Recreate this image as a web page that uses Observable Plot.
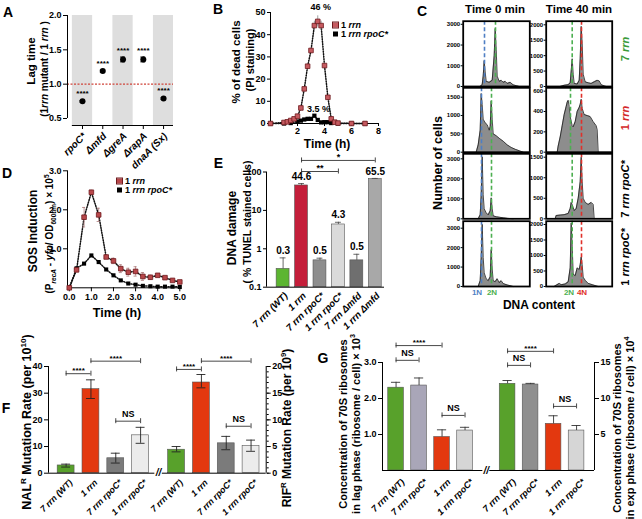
<!DOCTYPE html>
<html><head><meta charset="utf-8">
<script src="https://cdn.jsdelivr.net/npm/d3@7"></script>
<script src="https://cdn.jsdelivr.net/npm/@observablehq/plot@0.6"></script>
<style>
html,body{margin:0;padding:0;background:#fff;}
#root{position:relative;width:642px;height:519px;overflow:hidden;background:#fff;font-family:"Liberation Sans",Arial,Helvetica,sans-serif;}
.lbl{position:absolute;white-space:nowrap;font-weight:bold;color:#000;line-height:1;}
.lbl sup,.lbl sub{font-size:0.65em;line-height:0;}
.sq{display:inline-block;width:5px;height:5px;margin-right:3px;vertical-align:middle;}
</style></head><body><div id="root"></div>
<script>
// ---------------- DATA ----------------
// Panel A
const aLabels = ["rpoC*", "Δmfd", "ΔgreA", "ΔrapA", "dnaA (Sx)"];
const aValues = [0.75, 1.19, 1.36, 1.36, 0.79];
const aErr = [0.012, 0.015, 0.035, 0.035, 0.012];
const aSig = ["****", "****", "****", "****", "****"];

// Panel B
const bTimeRrn = [0, 1, 1.25, 1.5, 1.75, 2, 2.25, 2.5, 2.75, 3, 3.25, 3.5, 3.75, 4, 4.25, 4.5, 4.75, 5, 6, 7];
const bRrn = [0, 0.45, 0.75, 1.35, 2.1, 3.3, 7.0, 15.6, 25.8, 32.9, 44.1, 46, 44.1, 26.1, 11.8, 2.1, 0.6, 0.2, 0, 0];
const bRrnErr = [0, 0, 0, 0, 0, 0, 0.5, 0.8, 1, 1, 2, 2.5, 2, 1, 0.8, 0.5, 0, 0, 0, 0];
const bTimeRpoC = [0, 1, 1.5, 2, 2.25, 2.5, 2.75, 3, 3.25, 3.5, 3.75, 4, 4.25, 4.5, 5, 6, 7];
const bRpoC = [0, 0, 0.2, 0.9, 1.3, 1.8, 2.1, 2.1, 3.5, 1.6, 0.5, 0.6, 0.6, 0.2, 0, 0, 0];
const bNotes = ["46 %", "3.5 %"];

// Panel C (DNA content channel, number of cells)
const cRows = ["7 <i>rrn</i>", "1 <i>rrn</i>", "7 <i>rrn rpoC*</i>", "1 <i>rrn rpoC*</i>"];
const c0X_7rrn = [17,19,20,21,22,23,26,29,31,32,33,34,36,38,40,42,44,47,50,53,56];
const c0Y_7rrn = [0,100,500,1250,700,250,200,300,1500,2800,1800,500,250,300,200,250,150,200,80,40,0];
const c40X_7rrn = [14,18,22,24,25,26,27,28,31,33,34,35,36,37,39,42,45,48,51,53,55,58,60];
const c40Y_7rrn = [0,40,60,120,500,900,400,100,80,200,900,1950,1400,400,150,120,100,150,200,180,60,20,0];
const c0X_1rrn = [13,15,17,18,19,20,22,24,26,27,28,29,30,33,36,40,44,48,52,56,60];
const c0Y_1rrn = [0,200,600,1600,1300,900,800,750,600,700,1400,900,500,450,380,300,200,130,80,40,0];
const c40X_1rrn = [11,12,14,16,18,20,21,22,23,24,26,27,29,31,33,34,35,36,38,41,44,47,50,51,52];
const c40Y_1rrn = [0,60,150,260,370,450,490,510,450,350,260,250,300,400,440,470,520,430,370,360,350,300,260,220,0];
const c0X_7rpo = [15,17,18,19,20,21,23,25,27,28,29,30,33,36,40,45,50];
const c0Y_7rpo = [0,200,1200,3100,1200,500,300,200,400,1050,500,150,100,80,50,20,0];
const c40X_7rpo = [9,10,14,18,22,24,25,26,28,30,32,34,35,36,37,39,42,45,47,48];
const c40Y_7rpo = [0,80,90,100,130,250,400,350,200,250,500,900,1500,900,500,400,350,400,350,0];
const c0X_1rpo = [15,17,18,19,20,21,23,25,27,28,29,30,32,34,36,38,40,44,50];
const c0Y_1rpo = [0,300,1500,3200,1500,700,400,300,500,1900,900,300,250,400,200,300,150,80,0];
const c40X_1rpo = [8,10,13,15,19,22,24,25,26,27,29,31,33,34,35,36,37,39,42,46,50,52];
const c40Y_1rpo = [0,40,100,60,80,150,600,2050,1300,400,350,600,550,700,950,700,300,200,100,60,20,0];
const cGuide1N = [21.3, 18.3, 18.3, 18.3];
const cGuide2N0 = [32.3, 28.3, 28.3, 28.3];
const cGuide2N40 = [26, 24.3, 26, 26];
const cGuide4N40 = [35.3, 35.3, 35.3, 35.3];
const cMax0 = [3150, 1756, 3250, 3360];
const cMax40 = [2117, 633, 1583, 2106];
const cTicks0 = [[0,1000,2000,3000],[0,500,1000,1500],[0,1000,2000,3000],[0,1000,2000,3000]];
const cTicks40 = [[0,500,1000,1500,2000],[0,200,400,600],[0,500,1000,1500],[0,500,1000,1500,2000]];

// Panel D
const dTime = [0, 0.33, 0.67, 1, 1.33, 1.67, 2, 2.33, 2.67, 3, 3.33, 3.67, 4, 4.33, 4.67, 5];
const dRrn = [0, 0.46, 1.81, 2.45, 1.87, 0.79, 0.69, 0.49, 0.40, 0.42, 0.29, 0.27, 0.32, 0.26, 0.19, 0.15];
const dRrnErr = [0, 0.05, 0.25, 0.05, 0.17, 0.03, 0.07, 0.1, 0.1, 0.12, 0.1, 0.05, 0.03, 0.03, 0.03, 0.02];
const dRpoC = [0, 0.5, 0.62, 0.83, 0.66, 0.47, 0.32, 0.19, 0.11, 0.08, 0.05, 0.04, 0.03, 0.03, 0.03, 0.02];

// Panel E
const eLabels = ["7 rrn (WT)", "1 rrn", "7 rrn rpoC*", "1 rrn rpoC*", "7 rrn Δmfd", "1 rrn Δmfd"];
const eValues = [0.3, 44.6, 0.5, 4.3, 0.5, 65.5];
const eErrTop = [0.58, 50, 0.57, 4.9, 0.72, 68];
const eText = ["0.3", "44.6", "0.5", "4.3", "0.5", "65.5"];
const eSigFrom = [1, 1], eSigTo = [5, 3], eSigText = ["*", "**"], eSigY = [200, 103];

// Panel F
const fLabels = ["7 rrn (WT)", "1 rrn", "7 rrn rpoC*", "1 rrn rpoC*"];
const fNal = [2.9, 31.5, 5.6, 14.2];
const fNalLo = [2.3, 28, 3.8, 11.2];
const fNalHi = [3.4, 35, 7.5, 17.2];
const fRif = [4.4, 17.0, 5.6, 5.1];
const fRifLo = [4.0, 16.0, 4.4, 4.1];
const fRifHi = [5.0, 18.5, 6.9, 6.2];
const fSigFrom = [0, 1, 2, 4, 5, 6], fSigTo = [1, 3, 3, 5, 7, 7];
const fSigText = ["****", "****", "NS", "****", "****", "NS"];
const fSigY = [37.3, 42, 19.5, 38.9, 42, 17.6];

// Panel G
const gLabels = ["7 rrn (WT)", "7 rrn rpoC*", "1 rrn", "1 rrn rpoC*"];
const gLag = [2.3, 2.36, 0.93, 1.11];
const gLagTop = [2.45, 2.57, 1.13, 1.2];
const gExp = [12.04, 11.94, 6.48, 5.55];
const gExpTop = [12.5, 12.1, 7.6, 6.25];
const gSigFrom = [0, 0, 2, 4, 4, 6], gSigTo = [2, 1, 3, 6, 5, 7];
const gSigText = ["****", "NS", "NS", "****", "NS", "NS"];
const gSigY = [3.47, 3.06, 1.53, 3.31, 2.92, 1.78];

// ---------------- HELPERS ----------------
const W = 642, H = 519;
const root = document.getElementById("root");
const FONT = '"Liberation Sans", Arial, Helvetica, sans-serif';
const SVGSTYLE = `position:absolute;left:0;top:0;background:transparent;overflow:visible;font-family:${FONT};font-weight:bold;font-size:9px;max-width:none;`;
function panel(frame, opts) {
  const [x0, x1, y0, y1] = frame;
  const svg = Plot.plot({
    width: W, height: H,
    marginLeft: x0, marginRight: W - x1, marginTop: y0, marginBottom: H - y1,
    color: {type: "identity"},
    ...opts,
    style: SVGSTYLE
  });
  root.appendChild(svg);
  return svg;
}
function label(html, x, y, o = {}) {
  const d = document.createElement("div");
  d.className = "lbl";
  d.innerHTML = html;
  d.style.left = x + "px"; d.style.top = y + "px";
  d.style.fontSize = (o.size || 12) + "px";
  if (o.color) d.style.color = o.color;
  if (o.weight) d.style.fontWeight = o.weight;
  const t = o.start ? "translate(0,-50%)" : "translate(-50%,-50%)";
  d.style.transform = t + (o.rot ? ` rotate(${o.rot}deg)` : "");
  root.appendChild(d);
}
function brackets(from, to, ys, texts, pos, fs) {
  const s = d3.range(from.length);
  const ends = d3.range(from.length * 2);
  const endX = j => pos((j & 1) ? to[j >> 1] : from[j >> 1]);
  return [
    Plot.ruleY(s, {y: i => ys[i], x1: i => pos(from[i]), x2: i => pos(to[i]), stroke: "#333", strokeWidth: 0.9}),
    Plot.ruleX(ends, {x: endX, y1: j => ys[j >> 1], y2: j => ys[j >> 1], insetTop: -2.5, insetBottom: -2.5, stroke: "#333", strokeWidth: 0.9}),
    Plot.text(s.filter(i => texts[i] !== "NS"), {x: i => (pos(from[i]) + pos(to[i])) / 2, y: i => ys[i], text: i => texts[i], dy: -3, fontSize: fs}),
    Plot.text(s.filter(i => texts[i] === "NS"), {x: i => (pos(from[i]) + pos(to[i])) / 2, y: i => ys[i], text: i => texts[i], dy: -7, fontSize: fs + 1})
  ];
}

// ---------------- PANEL A ----------------
{
  const idx = d3.range(aLabels.length);
  const xd = [-0.74, 4.49], yb = 0.398;
  panel([67, 173, 15, 125], {
    x: {domain: xd, axis: null},
    y: {domain: [yb, 2], axis: null},
    marks: [
      Plot.rect(idx.filter(i => i % 2 === 0), {x1: i => i - 0.5, x2: i => Math.min(i + 0.5, xd[1]), y1: yb, y2: 2, fill: "#dedede"}),
      Plot.ruleY([1], {stroke: "#d0443a", strokeDasharray: "2,1.5", strokeWidth: 1.2}),
      Plot.ruleX([xd[0]], {y1: 0.5, y2: 2, stroke: "#000"}),
      Plot.ruleY([yb], {x1: -0.5, x2: xd[1], stroke: "#000"}),
      Plot.axisY({ticks: [0.5, 1, 1.5, 2], tickFormat: d3.format(".1f"), tickSize: 4, tickPadding: 2, label: null, fontSize: 9}),
      Plot.ruleX(idx, {x: i => i, y1: yb, y2: yb, insetBottom: -4}),
      Plot.text(idx, {x: i => i, y: yb, text: i => aLabels[i], rotate: -45, textAnchor: "end", dx: 2, dy: 9, fontSize: 10, fontStyle: "italic"}),
      Plot.ruleX(idx, {x: i => i, y1: i => aValues[i] - aErr[i], y2: i => aValues[i] + aErr[i]}),
      Plot.ruleY(idx, {y: i => aValues[i] + aErr[i], x1: i => i - 0.12, x2: i => i + 0.12}),
      Plot.ruleY(idx, {y: i => aValues[i] - aErr[i], x1: i => i - 0.12, x2: i => i + 0.12}),
      Plot.dot(idx, {x: i => i, y: i => aValues[i], r: 3, fill: "#000"}),
      Plot.text(idx, {x: i => i, y: i => aValues[i] + aErr[i], text: i => aSig[i], dy: -7, fontSize: 8})
    ]
  });
  label("A", 8, 12, {size: 14});
  label("Lag time", 32, 61, {size: 11.5, rot: -90});
  label("(1<i>rrn</i> mutant / 1 <i>rrn</i> )", 45, 69, {size: 10, rot: -90});
}

// ---------------- PANEL B ----------------
{
  const ir = d3.range(bTimeRrn.length), ib = d3.range(bTimeRpoC.length);
  const pk1 = d3.maxIndex(bRrn), pk2 = d3.maxIndex(bRpoC);
  panel([270, 378, 12, 123], {
    x: {domain: [0, 8], axis: null},
    y: {domain: [0, 50], axis: null},
    marks: [
      Plot.ruleX([0]), Plot.ruleY([0]),
      Plot.axisY({ticks: d3.range(0, 51, 10), tickSize: 3, tickPadding: 2, label: null}),
      Plot.axisX({ticks: [2, 4, 6, 8], tickSize: 3, tickPadding: 1, label: null}),
      Plot.line(ib, {x: i => bTimeRpoC[i], y: i => bRpoC[i], stroke: "#111", strokeDasharray: "1,1.5"}),
      Plot.dot(ib, {x: i => bTimeRpoC[i], y: i => bRpoC[i], symbol: "square", r: 2.4, fill: "#000"}),
      Plot.line(ir, {x: i => bTimeRrn[i], y: i => bRrn[i], stroke: "#111", strokeDasharray: "1,1.5"}),
      Plot.ruleX(ir.filter(i => bRrnErr[i] > 0), {x: i => bTimeRrn[i], y1: i => bRrn[i] - bRrnErr[i], y2: i => bRrn[i] + bRrnErr[i], stroke: "#888", strokeWidth: 0.8}),
      Plot.dot(ir, {x: i => bTimeRrn[i], y: i => bRrn[i], symbol: "square", r: 2.6, fill: "#c65a60", stroke: "#6e1a1e", strokeWidth: 0.8}),
      Plot.text([pk1], {x: i => bTimeRrn[i], y: i => bRrn[i] + bRrnErr[i], text: () => bNotes[0], dy: -9, dx: 3, fontSize: 9}),
      Plot.text([pk2], {x: i => bTimeRpoC[i], y: i => bRpoC[i], text: () => bNotes[1], dy: -7, dx: 4, fontSize: 9})
    ]
  });
  label("B", 218, 9, {size: 14});
  label("% of dead cells", 237, 62, {size: 11.5, rot: -90});
  label("(PI staining)", 249.5, 60, {size: 11, rot: -90});
  label("Time (h)", 327, 143.5, {size: 12});
  label('<span class="sq" style="background:#c65a60;outline:0.8px solid #6e1a1e"></span>1 <i>rrn</i>', 333, 25, {size: 9, start: true});
  label('<span class="sq" style="background:#000"></span>1 <i>rrn rpoC*</i>', 333, 33.5, {size: 9, start: true});
}

// ---------------- PANEL C ----------------
{
  const cX0 = [c0X_7rrn, c0X_1rrn, c0X_7rpo, c0X_1rpo], cY0 = [c0Y_7rrn, c0Y_1rrn, c0Y_7rpo, c0Y_1rpo];
  const cX40 = [c40X_7rrn, c40X_1rrn, c40X_7rpo, c40X_1rpo], cY40 = [c40Y_7rrn, c40Y_1rrn, c40Y_7rpo, c40Y_1rpo];
  const boxY = [[20.7, 86], [87.3, 151.7], [153.3, 218.3], [220.7, 286]];
  const boxX = [[462.7, 529.3], [545.7, 611.7]];
  const BLUE = "#4f7fc4", GREEN = "#4caf50", RED = "#e0302a";
  for (let r = 0; r < 4; r++) for (let c = 0; c < 2; c++) {
    const X = c ? cX40[r] : cX0[r], Y = c ? cY40[r] : cY0[r];
    const max = c ? cMax40[r] : cMax0[r], ticks = c ? cTicks40[r] : cTicks0[r];
    const guides = c ? [[cGuide2N40[r], GREEN], [cGuide4N40[r], RED]] : [[cGuide1N[r], BLUE], [cGuide2N0[r], GREEN]];
    const w = boxX[c][1] - boxX[c][0];
    const idx = d3.range(X.length);
    panel([boxX[c][0], boxX[c][1], boxY[r][0], boxY[r][1]], {
      x: {domain: [0, w], axis: null},
      y: {domain: [0, max], axis: null},
      marks: [
        Plot.areaY(idx, {x: i => X[i], y: i => Y[i], fill: "#8d8d8d"}),
        Plot.lineY(idx, {x: i => X[i], y: i => Y[i], stroke: "#1b1b1b", strokeWidth: 0.8}),
        ...guides.map(([g, col]) => Plot.ruleX([g], {stroke: col, strokeWidth: 1.6, strokeDasharray: "4,2.5"})),
        Plot.frame({stroke: "#000", strokeWidth: 1.8}),
        Plot.axisY({ticks, tickFormat: d => String(d), tickSize: 2, tickPadding: 1, fontSize: 6, label: null})
      ]
    });
  }
  label("C", 422, 11, {size: 14});
  label("Time 0 min", 495, 10, {size: 11.5});
  label("Time 40 min", 579, 10, {size: 11.5});
  const rowCol = ["#3a9b3a", "#d42a2a", "#000", "#000"];
  const rowY = [49, 118, 189, 257];
  cRows.forEach((t, r) => label(t, 625, rowY[r], {size: 11, rot: -90, color: rowCol[r]}));
  label("Number of cells", 438, 163, {size: 12.5, rot: -90});
  label("1N", 477, 293, {size: 8, color: BLUE});
  label("2N", 492, 293, {size: 8, color: GREEN});
  label("2N", 569, 293, {size: 8, color: GREEN});
  label("4N", 582, 293, {size: 8, color: RED});
  label("DNA content", 539, 305, {size: 12});
}

// ---------------- PANEL D ----------------
{
  const idx = d3.range(dTime.length);
  panel([67, 179.3, 170.3, 287.3], {
    x: {domain: [-0.08, 5], axis: null},
    y: {domain: [0, 3], axis: null},
    marks: [
      Plot.ruleX([-0.08]), Plot.ruleY([0]),
      Plot.axisY({ticks: [1, 2, 3], tickSize: 4, tickPadding: 2, label: null}),
      Plot.axisX({ticks: d3.range(0, 6), tickSize: 4, tickPadding: 2, label: null}),
      Plot.line(idx, {x: i => dTime[i], y: i => dRpoC[i], stroke: "#111", strokeDasharray: "1,1.5"}),
      Plot.line(idx, {x: i => dTime[i], y: i => dRrn[i], stroke: "#111", strokeDasharray: "1,1.5"}),
      Plot.ruleX(idx, {x: i => dTime[i], y1: i => dRrn[i] - dRrnErr[i], y2: i => dRrn[i] + dRrnErr[i], stroke: "#a77", strokeWidth: 0.8}),
      Plot.ruleY(idx, {y: i => dRrn[i] + dRrnErr[i], x1: i => dTime[i] - 0.07, x2: i => dTime[i] + 0.07, stroke: "#a77", strokeWidth: 0.8}),
      Plot.ruleY(idx, {y: i => dRrn[i] - dRrnErr[i], x1: i => dTime[i] - 0.07, x2: i => dTime[i] + 0.07, stroke: "#a77", strokeWidth: 0.8}),
      Plot.dot(idx, {x: i => dTime[i], y: i => dRpoC[i], symbol: "square", r: 2.3, fill: "#000"}),
      Plot.dot(idx, {x: i => dTime[i], y: i => dRrn[i], symbol: "square", r: 2.6, fill: "#b8474a", stroke: "#6e1a1e", strokeWidth: 0.8})
    ]
  });
  label("D", 7, 173, {size: 14});
  label("SOS Induction", 33, 231, {size: 12, rot: -90});
  label("(P<sub><i>recA</i></sub> - <i>yfp</i>/ OD<sub>600nm</sub>) × 10<sup>5</sup>", 50, 234, {size: 10, rot: -90});
  label("Time (h)", 117, 313, {size: 12.5});
  label('<span class="sq" style="background:#b8474a;outline:0.8px solid #6e1a1e"></span>1 <i>rrn</i>', 117, 180.5, {size: 9, start: true});
  label('<span class="sq" style="background:#000"></span>1 <i>rrn rpoC*</i>', 117, 189.5, {size: 9, start: true});
}

// ---------------- PANEL E ----------------
{
  const idx = d3.range(eLabels.length);
  const eColors = ["#5cb531", "#c41e3a", "#8e8e8e", "#dadada", "#6f6f6f", "#a8a8a8"];
  const xd = [-0.9, 5.5];
  panel([266, 384, 171.5, 286.7], {
    x: {domain: xd, axis: null},
    y: {type: "log", domain: [0.1, 100], axis: null},
    marks: [
      Plot.rect(idx, {x1: i => i - 0.35, x2: i => i + 0.35, y1: 0.1, y2: i => eValues[i], fill: i => eColors[i], stroke: "#555", strokeWidth: 0.6}),
      Plot.ruleX(idx, {x: i => i, y1: i => eValues[i], y2: i => eErrTop[i], stroke: "#444", strokeWidth: 0.8}),
      Plot.ruleY(idx, {y: i => eErrTop[i], x1: i => i - 0.16, x2: i => i + 0.16, stroke: "#444", strokeWidth: 0.8}),
      Plot.text(idx, {x: i => i, y: i => eErrTop[i], text: i => eText[i], dy: -7, fontSize: 10}),
      Plot.ruleX([xd[0]], {y1: 0.1, y2: 100}),
      Plot.ruleY([0.1], {x1: xd[0], x2: xd[1]}),
      Plot.axisY({ticks: [0.1, 1, 10, 100], tickFormat: d => String(d), tickSize: 3, tickPadding: 2, label: null}),
      Plot.text(idx, {x: i => i, y: 0.1, text: i => eLabels[i], rotate: -45, textAnchor: "end", dx: 3, dy: 7, fontSize: 9.5, fontStyle: "italic"}),
      ...brackets(eSigFrom, eSigTo, eSigY, eSigText, k => k, 9)
    ]
  });
  label("E", 218.5, 162.5, {size: 14});
  label("DNA damage", 232, 228, {size: 12, rot: -90});
  label("( % TUNEL stained cells)", 246.5, 222, {size: 10.5, rot: -90});
}

// ---------------- PANEL F ----------------
{
  const n = fLabels.length, gap = 0.45;
  const pos = k => k < n ? k : k + gap;
  const all = d3.range(2 * n);
  const fColors = ["#58a12b", "#e3380f", "#7b7b7b", "#ececec"];
  const val = k => k < n ? fNal[k] : fRif[k - n] * 2;
  const lo = k => k < n ? fNalLo[k] : fRifLo[k - n] * 2;
  const hi = k => k < n ? fNalHi[k] : fRifHi[k - n] * 2;
  const xd = [-0.71, 8.06];
  const mid = (pos(n - 1) + pos(n)) / 2;
  panel([48, 265.7, 366, 472.7], {
    x: {domain: xd, axis: null},
    y: {domain: [0, 40], axis: null},
    marks: [
      Plot.rect(all, {x1: k => pos(k) - 0.34, x2: k => pos(k) + 0.34, y1: 0, y2: val, fill: k => fColors[k % n], stroke: "#555", strokeWidth: 0.6}),
      Plot.ruleX(all, {x: pos, y1: lo, y2: hi, stroke: "#222", strokeWidth: 0.9}),
      Plot.ruleY(all, {y: lo, x1: k => pos(k) - 0.18, x2: k => pos(k) + 0.18, stroke: "#222", strokeWidth: 0.9}),
      Plot.ruleY(all, {y: hi, x1: k => pos(k) - 0.18, x2: k => pos(k) + 0.18, stroke: "#222", strokeWidth: 0.9}),
      Plot.ruleX([xd[0], xd[1]], {y1: 0, y2: 40}),
      Plot.ruleY([0], {x1: xd[0], x2: mid - 0.15}),
      Plot.ruleY([0], {x1: mid + 0.15, x2: xd[1]}),
      Plot.text([0], {x: mid, y: 0, text: () => "//", fontSize: 10, fontStyle: "italic"}),
      Plot.axisY({ticks: d3.range(0, 41, 10), tickSize: 4, tickPadding: 2, label: null}),
      Plot.axisY({anchor: "right", ticks: d3.range(0, 41, 10), tickFormat: d => d / 2, tickSize: 4, tickPadding: 2, label: null}),
      Plot.axisY({anchor: "right", ticks: d3.range(0, 41, 2), tickFormat: () => "", tickSize: 2, label: null}),
      Plot.text(all, {x: pos, y: 0, text: k => fLabels[k % n], rotate: -45, textAnchor: "end", dx: 5, dy: 8, fontSize: 8.8, fontStyle: "italic"}),
      ...brackets(fSigFrom, fSigTo, fSigY, fSigText, pos, 8)
    ]
  });
  label("F", 6, 407.5, {size: 14});
  label("NAL<sup>R</sup> Mutation Rate (per 10<sup>10</sup>)", 27, 422, {size: 12.5, rot: -90});
  label("RIF<sup>R</sup> Mutation Rate (per 10<sup>9</sup>)", 287, 428, {size: 12, rot: -90});
}

// ---------------- PANEL G ----------------
{
  const n = gLabels.length, gap = 0.85;
  const pos = k => k < n ? k : k + gap;
  const all = d3.range(2 * n);
  const gColL = ["#58a12b", "#a9a6b8", "#e3380f", "#d6d6d6"];
  const gColR = ["#58a12b", "#8f8f8f", "#e3380f", "#d6d6d6"];
  const val = k => k < n ? gLag[k] : gExp[k - n] / 5;
  const top = k => k < n ? gLagTop[k] : gExpTop[k - n] / 5;
  const xd = [-0.59, 8.63];
  const mid = (pos(n - 1) + pos(n)) / 2;
  panel([382, 594, 362, 470], {
    x: {domain: xd, axis: null},
    y: {domain: [0, 3], axis: null},
    marks: [
      Plot.rect(all, {x1: k => pos(k) - 0.34, x2: k => pos(k) + 0.34, y1: 0, y2: val, fill: k => k < n ? gColL[k] : gColR[k - n], stroke: "#555", strokeWidth: 0.6}),
      Plot.ruleX(all, {x: pos, y1: val, y2: top, stroke: "#333", strokeWidth: 0.9}),
      Plot.ruleY(all, {y: top, x1: k => pos(k) - 0.2, x2: k => pos(k) + 0.2, stroke: "#333", strokeWidth: 0.9}),
      Plot.ruleX([xd[0], xd[1]], {y1: 0, y2: 3}),
      Plot.ruleY([0], {x1: xd[0], x2: mid - 0.15}),
      Plot.ruleY([0], {x1: mid + 0.15, x2: xd[1]}),
      Plot.text([0], {x: mid, y: 0, text: () => "//", fontSize: 10, fontStyle: "italic"}),
      Plot.axisY({ticks: [1, 2, 3], tickSize: 4, tickPadding: 2, label: null}),
      Plot.axisY({anchor: "right", ticks: [1, 2, 3], tickFormat: d => d * 5, tickSize: 4, tickPadding: 2, label: null}),
      Plot.text(all, {x: pos, y: 0, text: k => gLabels[k % n], rotate: -45, textAnchor: "end", dx: 7, dy: 10, fontSize: 9, fontStyle: "italic"}),
      ...brackets(gSigFrom, gSigTo, gSigY, gSigText, pos, 8)
    ]
  });
  label("G", 323, 357.5, {size: 14});
  label("Concentration of 70S ribosomes", 343, 424, {size: 11, rot: -90});
  label("in lag phase (ribosome / cell) × 10<sup>3</sup>", 356, 424, {size: 11, rot: -90});
  label("Concentration of 70S ribosomes", 617, 428, {size: 11, rot: -90});
  label("in exp phase (ribosome / cell) × 10<sup>4</sup>", 630, 428, {size: 11, rot: -90});
}
</script></body></html>
